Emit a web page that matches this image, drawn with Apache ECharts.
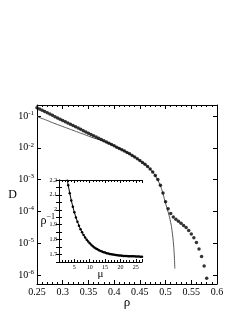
<!DOCTYPE html>
<html>
<head>
<meta charset="utf-8">
<script src="https://cdn.jsdelivr.net/npm/echarts@6/dist/echarts.min.js"></script>
<style>html,body{margin:0;padding:0;background:#fff}#c{width:249px;height:322px}</style>
</head>
<body>
<div id="c"></div>
<script>
// Main plot: simulation points D(rho)
const rho = [0.25,0.255,0.26,0.265,0.27,0.275,0.28,0.285,0.29,0.295,0.30,0.305,0.31,0.315,0.32,0.325,0.33,0.335,0.34,0.345,0.35,0.355,0.36,0.365,0.37,0.375,0.38,0.385,0.39,0.395,0.40,0.405,0.41,0.415,0.42,0.425,0.43,0.435,0.44,0.445,0.45,0.455,0.46,0.465,0.47,0.475,0.48,0.485,0.49,0.495,0.50,0.505,0.51,0.515,0.52,0.525,0.53,0.535,0.54,0.545,0.55,0.555,0.56,0.565,0.57,0.575,0.58];
const D = [0.182,0.166,0.151,0.138,0.126,0.115,0.105,0.0955,0.0871,0.0794,0.0724,0.0661,0.0603,0.0550,0.0501,0.0457,0.0417,0.0380,0.0347,0.0316,0.0288,0.0263,0.0240,0.0219,0.0200,0.0182,0.0166,0.0151,0.0138,0.0126,0.0115,0.0105,0.00955,0.00871,0.00794,0.00716,0.00646,0.00575,0.00513,0.00452,0.00398,0.00347,0.00302,0.00257,0.00214,0.00174,0.00135,0.00100,6.61e-4,3.80e-4,2.00e-4,1.20e-4,8.51e-5,6.61e-5,5.62e-5,4.90e-5,4.27e-5,3.63e-5,3.09e-5,2.51e-5,1.95e-5,1.48e-5,1.05e-5,6.61e-6,3.80e-6,1.91e-6,7.94e-7];
// Main plot: theory curve
const thRho = [0.25,0.26,0.27,0.28,0.29,0.30,0.31,0.32,0.33,0.34,0.35,0.36,0.37,0.38,0.39,0.40,0.41,0.42,0.43,0.44,0.45,0.46,0.47,0.48,0.49,0.495,0.50,0.505,0.51,0.5125,0.515,0.517,0.518];
const thD = [0.0955,0.0832,0.0724,0.0617,0.0537,0.0468,0.0407,0.0355,0.0309,0.0269,0.0234,0.0204,0.0182,0.0158,0.0138,0.0115,0.00955,0.00794,0.00646,0.00513,0.00398,0.00302,0.00214,0.00132,6.31e-4,3.55e-4,1.78e-4,9.55e-5,4.47e-5,2.51e-5,1.12e-5,3.98e-6,1.58e-6];
// Inset: inverse density vs mu
const mu = [2.5,3,3.5,4,4.5,5,5.5,6,6.5,7,7.5,8,8.5,9,9.5,10,10.5,11,11.5,12,12.5,13,13.5,14,14.5,15,15.5,16,16.5,17,17.5,18,18.5,19,19.5,20,20.5,21,21.5,22,22.5,23,23.5,24,24.5,25,25.5,26,26.5,27];
const invRho = [2.222,2.165,2.111,2.063,2.020,1.983,1.949,1.920,1.893,1.870,1.849,1.831,1.814,1.800,1.787,1.776,1.765,1.756,1.748,1.741,1.735,1.729,1.724,1.720,1.716,1.713,1.709,1.707,1.704,1.702,1.700,1.699,1.697,1.696,1.694,1.693,1.692,1.691,1.691,1.690,1.689,1.689,1.688,1.688,1.688,1.687,1.687,1.687,1.686,1.686];
// Tick labels
const xTicks = ['0.25','0.3','0.35','0.4','0.45','0.5','0.55','0.6'];
const insetYTicks = ['1.7','1.8','1.9','2','2.1','2.2'];

const FONT = 'Liberation Serif';
const axisBase = {
  axisLine: {show: true, lineStyle: {color: '#000', width: 1}},
  splitLine: {show: false},
  nameMoveOverlap: false,
};
function mainX(pos, labels) {
  return Object.assign({}, axisBase, {
    gridIndex: 0, type: 'value', min: 0.25, max: 0.6, interval: 0.05, position: pos,
    axisTick: {inside: true, length: 4, lineStyle: {color: '#000'}},
    minorTick: {show: true, splitNumber: 5, length: 2, lineStyle: {color: '#000'}},
    axisLabel: {show: labels, fontFamily: FONT, fontSize: 10, color: '#000', margin: 3,
      formatter: v => { const i = Math.round((v - 0.25) / 0.05); return xTicks[i] || ''; }},
  });
}
function mainY(pos, labels) {
  return Object.assign({}, axisBase, {
    gridIndex: 0, type: 'log', min: 5.2e-7, max: 0.222, position: pos,
    axisTick: {inside: true, length: 4, lineStyle: {color: '#000'}},
    axisLabel: {show: labels, fontFamily: FONT, fontSize: 10, color: '#000', margin: 3,
      showMinLabel: false, showMaxLabel: false,
      formatter: v => { const e = Math.round(Math.log10(v)); return '10{s|' + e + '}'; },
      rich: {s: {fontFamily: FONT, fontSize: 7, color: '#000', verticalAlign: 'top', padding: [0, 0, 6, 0]}}},
  });
}
function insetX(pos, labels) {
  return Object.assign({}, axisBase, {
    gridIndex: 1, type: 'value', min: 0, max: 27, interval: 5, position: pos,
    axisTick: {inside: true, length: 3, lineStyle: {color: '#000'}},
    minorTick: {show: true, splitNumber: 5, length: 2, lineStyle: {color: '#000'}},
    axisLabel: {show: labels, fontFamily: FONT, fontSize: 6, color: '#000', margin: 2,
      showMinLabel: false, showMaxLabel: false},
  });
}
function insetY(pos, labels) {
  return Object.assign({}, axisBase, {
    gridIndex: 1, type: 'value', min: 1.65, max: 2.2, interval: 0.05, position: pos,
    axisTick: {inside: true, length: 3, lineStyle: {color: '#000'}},
    axisLabel: {show: labels, fontFamily: FONT, fontSize: 6, color: '#000', margin: 2,
      formatter: v => { const k = Math.round(v * 100); if (k % 10 !== 0) return ''; const i = Math.round((v - 1.7) / 0.1); return insetYTicks[i] || ''; }},
  });
}

const xA = [mainX('bottom', true), mainX('top', false), insetX('bottom', true), insetX('top', false)];
xA[0].name = 'ρ'; xA[0].nameLocation = 'middle'; xA[0].nameGap = 12;
xA[0].nameTextStyle = {fontFamily: FONT, fontSize: 13, color: '#000'};
xA[2].name = 'μ'; xA[2].nameLocation = 'middle'; xA[2].nameGap = 7;
xA[2].nameTextStyle = {fontFamily: FONT, fontSize: 11, color: '#000'};
const yA = [mainY('left', true), mainY('right', false), insetY('left', true), insetY('right', false)];
yA[0].name = 'D'; yA[0].nameLocation = 'middle'; yA[0].nameGap = 20; yA[0].nameRotate = 0;
yA[0].nameTextStyle = {fontFamily: FONT, fontSize: 12, color: '#000'};
yA[2].name = 'ρ{s|−1}'; yA[2].nameLocation = 'middle'; yA[2].nameGap = 4; yA[2].nameRotate = 0;
yA[2].nameTextStyle = {fontFamily: FONT, fontSize: 12, color: '#000',
  rich: {s: {fontFamily: FONT, fontSize: 8, color: '#000', verticalAlign: 'top', padding: [0, 0, 8, 0]}}};

const chart = echarts.init(document.getElementById('c'), null, {renderer: 'canvas'});
chart.setOption({
  backgroundColor: '#fff',
  animation: false,
  grid: [
    {left: 37, top: 105, width: 180, height: 179},
    {left: 59, top: 180, width: 83, height: 82}
  ],
  xAxis: xA,
  yAxis: yA,
  series: [
    {type: 'line', xAxisIndex: 0, yAxisIndex: 0, data: thRho.map((r, i) => [r, thD[i]]),
      showSymbol: false, smooth: true, lineStyle: {color: '#555', width: 1}, z: 2},
    {type: 'scatter', xAxisIndex: 0, yAxisIndex: 0, data: rho.map((r, i) => [r, D[i]]),
      symbol: 'circle', symbolSize: 3.5, itemStyle: {color: '#000'}, z: 3},
    {type: 'line', xAxisIndex: 2, yAxisIndex: 2, data: mu.map((m, i) => [m, invRho[i]]),
      symbol: 'circle', symbolSize: 2.5, showSymbol: true, clip: true, lineStyle: {color: '#000', width: 1},
      itemStyle: {color: '#000'}, z: 4}
  ]
});
</script>
</body>
</html>
